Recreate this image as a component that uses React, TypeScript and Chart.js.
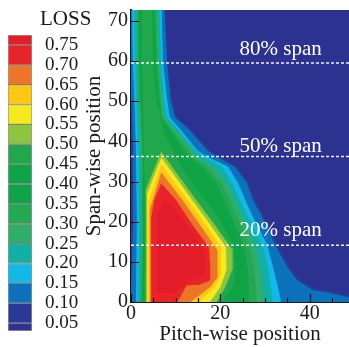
import { useEffect, useRef } from 'react';
import { Chart, registerables } from 'chart.js';

Chart.register(...registerables);

const FONT_FAMILY = '"Liberation Serif", "Times New Roman", serif';
const TEXT_COLOR = '#1a1a1a';

// Axes
const X_MIN = 0;
const X_MAX = 48.8;
const Y_MIN = 0;
const Y_MAX = 72.7;
const X_TICKS = [0, 20, 40];
const X_MINOR_TICKS = [5, 10, 15, 25, 30, 35, 45];
const Y_TICKS = [0, 10, 20, 30, 40, 50, 60, 70];
const X_TITLE = 'Pitch-wise position';
const Y_TITLE = 'Span-wise position';
const LEGEND_TITLE = 'LOSS';

// Contour levels (lower bound of each filled band) and their colours
const LEVELS = [0.05, 0.1, 0.15, 0.2, 0.25, 0.3, 0.35, 0.4, 0.45, 0.5, 0.55, 0.6, 0.65, 0.7, 0.75];
const LEVEL_COLORS = [
  '#2a3896', '#0c72bc', '#12b8e8', '#12b0a4', '#2eae6a', '#24a852', '#10a448', '#0ea446',
  '#22a84c', '#8ec43e', '#f6ea1e', '#fcc814', '#ee7528', '#e8242a', '#e21c28',
];
const BELOW_COLOR = '#2c3290';
const COLORBAR_MIN = 0.03;
const COLORBAR_MAX = 0.775;

// Region boundaries (x = pitch-wise, y = span-wise) where LOSS >= level
const POLY_005 = [[-1, 0], [-1, 75], [7.7, 75], [8.4, 59.5], [9.3, 50.3], [10.3, 46], [13.8, 42.8], [17.8, 37.8], [20.1, 36.1], [24.0, 33.6], [26.6, 29.6], [27.9, 25.4], [30.0, 21.2], [33.0, 14.2], [35.8, 8.7], [38.2, 5.4], [41.6, 3.4], [45.5, 2.7], [50, 2.2], [50, 0]];
const POLY_010 = [[0.1, 0], [0.5, 20], [0.5, 38], [0.2, 50.3], [0, 59.5], [-0.5, 75], [7.3, 75], [8.0, 59.5], [8.8, 50.3], [9.8, 46], [13.0, 42.8], [17.0, 37.8], [19.2, 36.1], [23.2, 33.6], [25.9, 29.6], [27.2, 25.4], [29.3, 21.2], [32.2, 14.2], [34.9, 8.7], [37.1, 5.4], [40.7, 2.9], [44.5, 2.2], [48.3, 1.2], [50, 1.0], [50, 0]];
const POLY_015 = [[1.2, 0], [1.4, 20], [1.2, 38], [0.85, 50.3], [0.5, 59.5], [0.3, 75], [6.7, 75], [7.1, 59.5], [8.0, 50.3], [8.6, 46], [11.1, 42.8], [14.7, 37.8], [17.0, 36.1], [21.7, 33.6], [23.9, 29.6], [25.5, 25.4], [27.2, 21.2], [30.4, 14.2], [31.7, 8.7], [32.6, 4.7], [33.3, 1.2], [33.5, 0]];
const POLY_020 = [[1.7, 0], [1.9, 20], [1.7, 38], [1.3, 50.3], [1.0, 59.5], [0.8, 75], [6.2, 75], [6.7, 59.5], [7.3, 50.3], [7.9, 46], [10.5, 42.8], [14.3, 37.8], [16.0, 36.1], [20.3, 33.6], [22.5, 29.6], [24.3, 25.4], [26.1, 21.2], [29.3, 14.2], [30.6, 8.7], [31.0, 4.7], [31.7, 0]];
const POLY_025 = [[2.2, 0], [2.4, 20], [2.3, 38], [1.8, 50.3], [1.5, 59.5], [1.3, 75], [5.8, 75], [6.2, 59.5], [6.9, 50.3], [7.4, 46], [9.8, 42.8], [13.6, 37.8], [14.7, 36.1], [18.1, 33.6], [21.4, 29.6], [23.2, 25.4], [24.8, 21.2], [27.7, 14.2], [28.8, 8.7], [29.3, 4.7], [29.7, 0]];
const POLY_030 = [[2.4, 0], [2.6, 20], [2.5, 38], [2.0, 50.3], [1.8, 59.5], [1.6, 75], [5.5, 75], [5.9, 59.5], [6.6, 50.3], [7.0, 46], [9.2, 42.8], [12.8, 37.8], [13.8, 36.1], [17.0, 33.6], [20.2, 29.6], [22.0, 25.4], [23.6, 21.2], [26.4, 14.2], [27.4, 8.7], [27.8, 4.7], [28.0, 0]];
const POLY_035 = [[2.6, 0], [2.8, 20], [2.7, 38], [2.2, 50.3], [2.0, 59.5], [1.8, 75], [5.2, 75], [5.6, 59.5], [6.3, 50.3], [6.7, 46], [8.7, 42.8], [12.0, 37.8], [13.0, 36.1], [16.0, 33.6], [19.0, 29.6], [20.8, 25.4], [22.4, 21.2], [25.2, 14.2], [26.0, 8.7], [26.2, 4.7], [26.2, 0]];
const POLY_040 = [[2.8, 0], [3.0, 20], [2.9, 38], [2.5, 50.3], [2.3, 59.5], [2.1, 75], [5.0, 75], [5.3, 59.5], [6.0, 50.3], [6.4, 46], [8.2, 42.8], [11.2, 37.8], [12.2, 36.1], [15.0, 33.6], [17.8, 29.6], [19.6, 25.4], [21.2, 21.2], [24.2, 14.2], [24.8, 8.7], [24.8, 4.7], [24.2, 0]];
const POLY_045 = [[3.1, 0], [3.2, 20], [3.2, 30], [3.0, 38], [2.8, 50.3], [2.6, 59.5], [2.5, 75], [4.6, 75], [4.9, 59.5], [5.6, 50.3], [6.4, 46], [7.8, 41], [11.5, 33], [15.5, 27], [19.5, 21], [22.8, 14.2], [23.3, 8.7], [22.8, 4], [20.3, 0]];
const POLY_050 = [[3.4, 0], [3.4, 28], [6.8, 37.3], [10.5, 31.5], [14.5, 25.4], [18.5, 19.5], [22.4, 13.3], [22.6, 8], [21.0, 3.7], [19.1, 0]];
const POLY_055 = [[3.7, 0], [3.7, 27], [6.8, 35.8], [13.6, 25.4], [17.5, 19.5], [21.2, 13.6], [21.3, 8], [19.9, 3.7], [17.6, 0]];
const POLY_060 = [[4.0, 0], [4.0, 25], [6.8, 34.1], [12.6, 25.4], [16.5, 19.5], [20.0, 13.8], [20.0, 7], [18.7, 3.7], [15.0, 0]];
const POLY_065 = [[4.3, 0], [4.3, 23], [6.8, 32.1], [11.4, 25.4], [15.5, 19.0], [19.2, 13.0], [19.2, 6], [17.6, 3.7], [13.2, 0]];
const POLY_070 = [[4.6, 0], [4.6, 21], [5.3, 25.4], [6.8, 29.4], [10.0, 25.4], [13.5, 19.5], [17.4, 13.6], [17.6, 9.9], [17.6, 5.4], [15.4, 4.4], [12.4, 4.2], [10.3, 0]];
const POLY_075 = [[6.0, 2.5], [6.0, 22], [7.5, 25.5], [12.0, 20.0], [16.3, 13.0], [16.5, 7.0], [13.0, 5.5], [9.5, 2.0]];

const CONTOURS = [
  POLY_005, POLY_010, POLY_015, POLY_020, POLY_025, POLY_030, POLY_035, POLY_040,
  POLY_045, POLY_050, POLY_055, POLY_060, POLY_065, POLY_070, POLY_075,
];

// Span reference lines and their labels
const SPAN_LINES = [59.5, 36.2, 14.1];
const SPAN_TEXTS = ['80% span', '50% span', '20% span'];
const SPAN_TEXT_Y = [61.5, 37.4, 16.4];
const SPAN_TEXT_X = 24.3;

const plotBackground = {
  id: 'plotBackground',
  beforeDatasetsDraw(chart: any) {
    const { ctx, chartArea } = chart;
    ctx.save();
    ctx.fillStyle = BELOW_COLOR;
    ctx.fillRect(chartArea.left, chartArea.top, chartArea.right - chartArea.left, chartArea.bottom - chartArea.top);
    ctx.restore();
  },
};

const innerTicks = {
  id: 'innerTicks',
  afterDatasetsDraw(chart: any) {
    const { ctx, chartArea, scales } = chart;
    ctx.save();
    ctx.strokeStyle = '#111';
    ctx.lineWidth = 1.2;
    ctx.beginPath();
    Y_TICKS.forEach((v) => {
      const y = Math.round(scales.y.getPixelForValue(v)) + 0.5;
      ctx.moveTo(chartArea.left, y);
      ctx.lineTo(chartArea.left + 8, y);
    });
    X_TICKS.forEach((v) => {
      const x = Math.round(scales.x.getPixelForValue(v)) + 0.5;
      ctx.moveTo(x, chartArea.bottom);
      ctx.lineTo(x, chartArea.bottom - 8);
    });
    X_MINOR_TICKS.forEach((v) => {
      const x = Math.round(scales.x.getPixelForValue(v)) + 0.5;
      ctx.moveTo(x, chartArea.bottom);
      ctx.lineTo(x, chartArea.bottom - 4);
    });
    ctx.stroke();
    ctx.restore();
  },
};

const spanLabels = {
  id: 'spanLabels',
  afterDatasetsDraw(chart: any) {
    const { ctx, scales } = chart;
    ctx.save();
    ctx.fillStyle = '#ffffff';
    ctx.font = `21px ${FONT_FAMILY}`;
    ctx.textAlign = 'left';
    ctx.textBaseline = 'alphabetic';
    SPAN_TEXTS.forEach((t, i) => {
      ctx.fillText(t, scales.x.getPixelForValue(SPAN_TEXT_X), scales.y.getPixelForValue(SPAN_TEXT_Y[i]));
    });
    ctx.restore();
  },
};

const legendTitle = {
  id: 'legendTitle',
  afterDraw(chart: any) {
    const { ctx } = chart;
    ctx.save();
    ctx.fillStyle = TEXT_COLOR;
    ctx.font = `21px ${FONT_FAMILY}`;
    ctx.textAlign = 'left';
    ctx.textBaseline = 'alphabetic';
    ctx.fillText(LEGEND_TITLE, 40, 25);
    ctx.restore();
  },
};

export default function App() {
  const mainRef = useRef<HTMLCanvasElement | null>(null);
  const barRef = useRef<HTMLCanvasElement | null>(null);

  useEffect(() => {
    if (!mainRef.current || !barRef.current) return;

    const datasets: any[] = [];
    SPAN_LINES.forEach((y) => {
      datasets.push({
        data: [{ x: X_MIN, y }, { x: X_MAX, y }],
        showLine: true,
        fill: false,
        borderColor: 'rgba(255,255,255,0.92)',
        borderWidth: 1.5,
        borderDash: [3, 2],
        pointRadius: 0,
        order: 0,
      });
    });
    CONTOURS.forEach((poly, i) => {
      datasets.push({
        data: poly.map(([x, y]) => ({ x, y })),
        showLine: true,
        fill: 'shape',
        tension: 0,
        backgroundColor: LEVEL_COLORS[i],
        borderColor: LEVEL_COLORS[i],
        borderWidth: 0.8,
        pointRadius: 0,
        order: 100 - i,
      });
    });

    const main = new Chart(mainRef.current, {
      type: 'scatter',
      data: { datasets },
      options: {
        animation: false,
        responsive: false,
        maintainAspectRatio: false,
        events: [],
        layout: { padding: { left: 0, top: 10, right: 0, bottom: 0 } },
        plugins: { legend: { display: false }, tooltip: { enabled: false }, title: { display: false } },
        scales: {
          x: {
            type: 'linear',
            min: X_MIN,
            max: X_MAX,
            afterBuildTicks: (s: any) => { s.ticks = X_TICKS.map((v) => ({ value: v })); },
            afterFit: (s: any) => { s.height = 45; s.paddingLeft = 0; s.paddingRight = 0; },
            grid: { display: true, drawOnChartArea: false, drawTicks: false },
            border: { display: true, color: '#1a1a1a', width: 2 },
            ticks: { padding: 0, maxRotation: 0, autoSkip: false, color: TEXT_COLOR, font: { family: FONT_FAMILY, size: 20 } },
            title: { display: true, text: X_TITLE, color: TEXT_COLOR, font: { family: FONT_FAMILY, size: 21 }, padding: { top: 0, bottom: 0 } },
          },
          y: {
            type: 'linear',
            min: Y_MIN,
            max: Y_MAX,
            afterBuildTicks: (s: any) => { s.ticks = Y_TICKS.map((v) => ({ value: v })); },
            afterFit: (s: any) => { s.width = 131; s.paddingTop = 0; s.paddingBottom = 0; },
            grid: { display: true, drawOnChartArea: false, drawTicks: false },
            border: { display: true, color: '#1a1a1a', width: 2 },
            ticks: { padding: 3, autoSkip: false, color: TEXT_COLOR, font: { family: FONT_FAMILY, size: 20 } },
            title: { display: true, text: Y_TITLE, color: TEXT_COLOR, font: { family: FONT_FAMILY, size: 21 }, padding: { top: 82, bottom: 0 } },
          },
        },
      },
      plugins: [plotBackground, innerTicks, spanLabels],
    } as any);

    const bins: number[][] = [];
    const binColors: string[] = [];
    bins.push([COLORBAR_MIN, LEVELS[0]]);
    binColors.push(BELOW_COLOR);
    LEVELS.forEach((lv, i) => {
      bins.push([lv, i < LEVELS.length - 1 ? LEVELS[i + 1] : COLORBAR_MAX]);
      binColors.push(LEVEL_COLORS[i]);
    });

    const bar = new Chart(barRef.current, {
      type: 'bar',
      data: {
        labels: [''],
        datasets: bins.map((b, i) => ({
          data: [[b[0], b[1]]],
          backgroundColor: binColors[i],
          borderColor: 'rgba(70,70,70,0.55)',
          borderWidth: 1,
          borderSkipped: false,
          categoryPercentage: 1,
          barPercentage: 1,
          grouped: false,
        })),
      },
      options: {
        animation: false,
        responsive: false,
        maintainAspectRatio: false,
        events: [],
        layout: { padding: { left: 8, top: 35, right: 0, bottom: 16 } },
        plugins: { legend: { display: false }, tooltip: { enabled: false } },
        scales: {
          x: { display: false },
          y: {
            position: 'right',
            min: COLORBAR_MIN,
            max: COLORBAR_MAX,
            afterBuildTicks: (s: any) => { s.ticks = LEVELS.map((v) => ({ value: v })); },
            afterFit: (s: any) => { s.width = 68; s.paddingTop = 0; s.paddingBottom = 0; },
            grid: { display: false },
            border: { display: false },
            ticks: {
              padding: 5,
              autoSkip: false,
              color: TEXT_COLOR,
              font: { family: FONT_FAMILY, size: 19 },
              callback: (v: any) => Number(v).toFixed(2),
            },
          },
        },
      },
      plugins: [legendTitle],
    } as any);

    return () => {
      main.destroy();
      bar.destroy();
    };
  }, []);

  return (
    <div style={{ position: 'fixed', left: 0, top: 0, width: 349, height: 347, background: '#ffffff', overflow: 'hidden' }}>
      <canvas ref={mainRef} width={349} height={347} style={{ position: 'absolute', left: 0, top: 0, width: 349, height: 347 }} />
      <canvas ref={barRef} width={100} height={347} style={{ position: 'absolute', left: 0, top: 0, width: 100, height: 347 }} />
    </div>
  );
}
